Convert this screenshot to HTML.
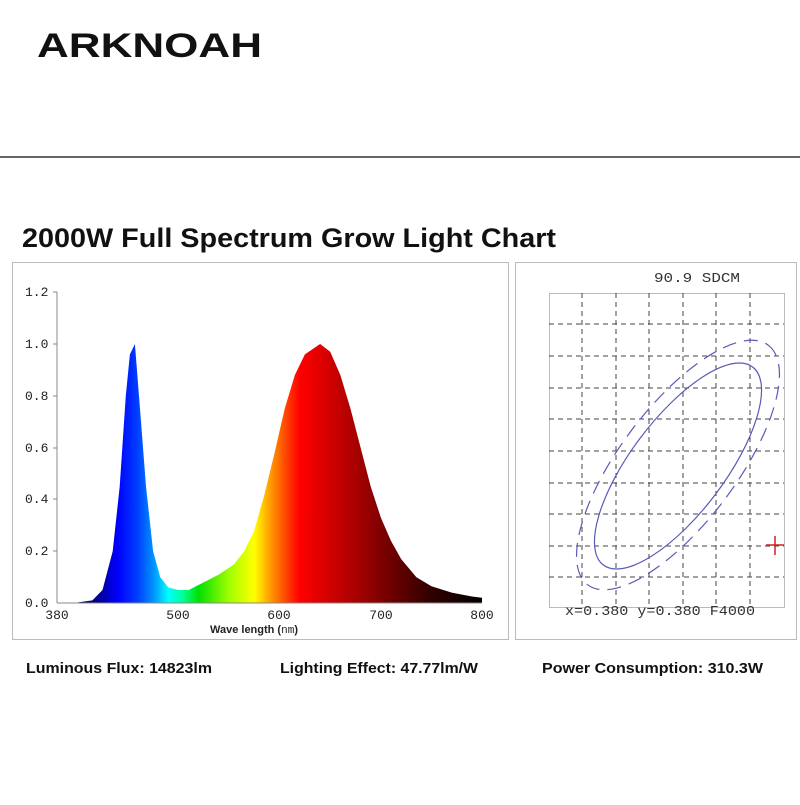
<!DOCTYPE html>
<html><head><meta charset="utf-8"><style>
body{margin:0;background:#fff;}
</style></head><body>
<svg width="800" height="800" viewBox="0 0 800 800" xmlns="http://www.w3.org/2000/svg" font-family="Liberation Sans, sans-serif">
<defs>
<linearGradient id="sp" gradientUnits="userSpaceOnUse" x1="57" y1="0" x2="482" y2="0">
<stop offset="0" stop-color="#000040"/>
<stop offset="0.095" stop-color="#00008b"/>
<stop offset="0.143" stop-color="#0000ff"/>
<stop offset="0.19" stop-color="#0040ff"/>
<stop offset="0.226" stop-color="#0090ff"/>
<stop offset="0.262" stop-color="#00ffff"/>
<stop offset="0.298" stop-color="#00ff90"/>
<stop offset="0.333" stop-color="#00e000"/>
<stop offset="0.405" stop-color="#a0ff00"/>
<stop offset="0.464" stop-color="#ffff00"/>
<stop offset="0.50" stop-color="#ffa000"/>
<stop offset="0.548" stop-color="#ff3000"/>
<stop offset="0.571" stop-color="#ff0000"/>
<stop offset="0.667" stop-color="#c00000"/>
<stop offset="0.762" stop-color="#800000"/>
<stop offset="0.88" stop-color="#300000"/>
<stop offset="1" stop-color="#000000"/>
</linearGradient>
</defs>
<text x="37" y="57" font-size="34" font-weight="bold" textLength="225" lengthAdjust="spacingAndGlyphs" fill="#111">ARKNOAH</text>
<line x1="0" y1="157" x2="800" y2="157" stroke="#333" stroke-width="1.5"/>
<text x="22" y="247" font-size="27" font-weight="bold" textLength="534" lengthAdjust="spacingAndGlyphs" fill="#111">2000W Full Spectrum Grow Light Chart</text>
<rect x="12.5" y="262.5" width="496" height="377" fill="none" stroke="#bbb"/>
<rect x="515.5" y="262.5" width="281" height="377" fill="none" stroke="#bbb"/>
<polygon fill="url(#sp)" points="57,603 77.2,602.5 92.4,600.4 102.5,590 112.7,551.2 119.7,486.5 125.8,395.8 129.9,354.4 134.9,344 140,408.8 146,486.5 153.1,551.2 160.2,577.1 168.3,587.5 178.4,590 188.6,590 198.7,584.9 218.9,574.5 234.1,564.2 244.2,551.2 254.3,530.5 264.5,494.2 274.6,452.8 284.7,408.8 294.8,375.1 304.9,354.4 320.1,344 330.2,351.8 340.4,375.1 350.5,408.8 360.6,447.6 370.7,486.5 380.8,517.5 390.9,540.8 401.1,559 416.3,577.1 431.4,586.2 451.7,592.6 471.9,596.5 482,597.8 482,603"/>
<g stroke="#888" stroke-width="1" fill="none">
<line x1="57" y1="292" x2="57" y2="603"/>
<line x1="57" y1="603" x2="482" y2="603"/>
<line x1="53" y1="292" x2="57" y2="292"/><line x1="53" y1="344" x2="57" y2="344"/><line x1="53" y1="396" x2="57" y2="396"/><line x1="53" y1="448" x2="57" y2="448"/><line x1="53" y1="499" x2="57" y2="499"/><line x1="53" y1="551" x2="57" y2="551"/>
</g>
<g font-family="Liberation Mono, monospace" font-size="13" fill="#222">
<text x="25" y="296">1.2</text><text x="25" y="348">1.0</text><text x="25" y="400">0.8</text><text x="25" y="452">0.6</text><text x="25" y="503">0.4</text><text x="25" y="555">0.2</text><text x="25" y="607">0.0</text>
<text x="57" y="619" text-anchor="middle">380</text><text x="178" y="619" text-anchor="middle">500</text><text x="279" y="619" text-anchor="middle">600</text><text x="381" y="619" text-anchor="middle">700</text><text x="482" y="619" text-anchor="middle">800</text>
</g>
<text x="210" y="633" font-size="11" font-weight="bold" fill="#222">Wave length (<tspan font-family="Liberation Mono, monospace" font-weight="normal">nm</tspan>)</text>
<rect x="549.5" y="293.5" width="235" height="314" fill="none" stroke="#bbb"/>
<g stroke="#444" stroke-width="1" stroke-dasharray="5,4">
<line x1="582" y1="293" x2="582" y2="608"/><line x1="616" y1="293" x2="616" y2="608"/><line x1="649" y1="293" x2="649" y2="608"/><line x1="683" y1="293" x2="683" y2="608"/><line x1="716" y1="293" x2="716" y2="608"/><line x1="750" y1="293" x2="750" y2="608"/>
<line x1="549" y1="324" x2="784" y2="324"/><line x1="549" y1="356" x2="784" y2="356"/><line x1="549" y1="388" x2="784" y2="388"/><line x1="549" y1="419" x2="784" y2="419"/><line x1="549" y1="451" x2="784" y2="451"/><line x1="549" y1="483" x2="784" y2="483"/><line x1="549" y1="514" x2="784" y2="514"/><line x1="549" y1="546" x2="784" y2="546"/><line x1="549" y1="577" x2="784" y2="577"/>
</g>
<ellipse cx="678" cy="466" rx="124" ry="47" transform="rotate(-53 678 466)" fill="none" stroke="#5a5ab8" stroke-width="1.2"/>
<ellipse cx="678" cy="465" rx="150" ry="58" transform="rotate(-53 678 465)" fill="none" stroke="#5a5ab8" stroke-width="1.2" stroke-dasharray="14,8"/>
<g stroke="#d02020" stroke-width="1.5"><line x1="766" y1="545" x2="784" y2="545"/><line x1="775" y1="536" x2="775" y2="555"/></g>
<g font-family="Liberation Mono, monospace" font-size="14" fill="#333">
<text x="654" y="282" textLength="86" lengthAdjust="spacingAndGlyphs">90.9 SDCM</text>
<text x="565" y="615" textLength="190" lengthAdjust="spacingAndGlyphs">x=0.380 y=0.380 F4000</text>
</g>
<g font-size="14.5" font-weight="bold" fill="#111">
<text x="26" y="673" textLength="186" lengthAdjust="spacingAndGlyphs">Luminous Flux: 14823lm</text>
<text x="280" y="673" textLength="198" lengthAdjust="spacingAndGlyphs">Lighting Effect: 47.77lm/W</text>
<text x="542" y="673" textLength="221" lengthAdjust="spacingAndGlyphs">Power Consumption: 310.3W</text>
</g>
</svg>
</body></html>
